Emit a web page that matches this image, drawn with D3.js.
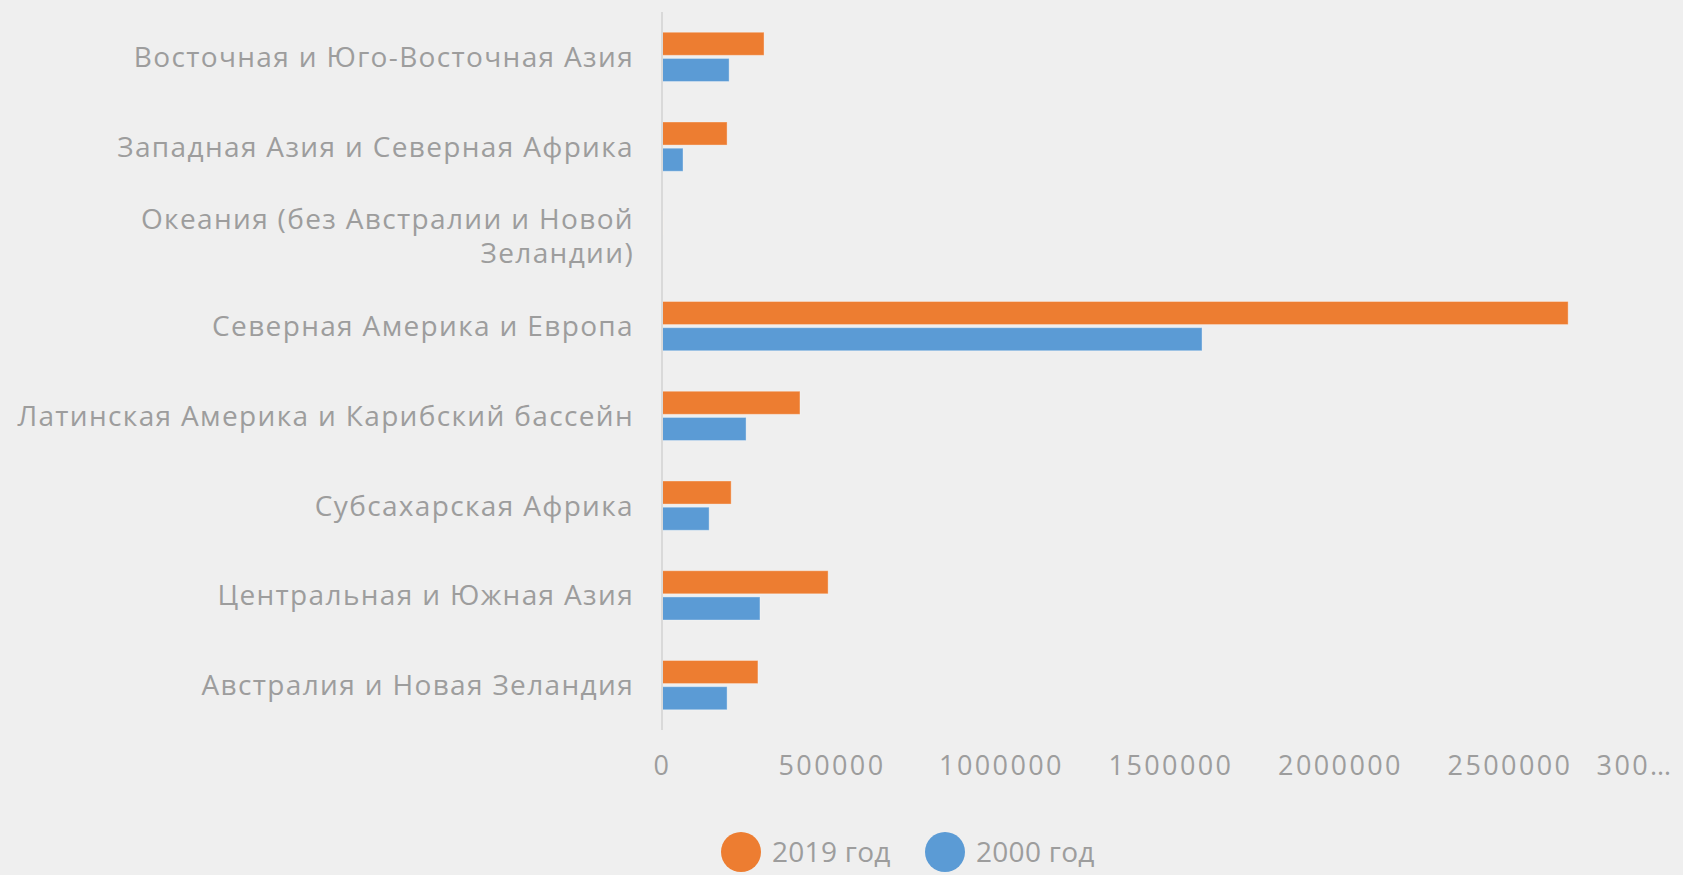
<!DOCTYPE html>
<html>
<head>
<meta charset="utf-8">
<script src="https://cdn.jsdelivr.net/npm/d3@7"></script>
<style>
  html, body { margin: 0; padding: 0; background: #efefef; }
  svg { display: block; }
  text { font-family: "Open Sans", "Noto Sans", sans-serif; fill: #9d9d9d; }
</style>
</head>
<body>
<svg id="chart" width="1683" height="875"></svg>
<script>
// Regions, top to bottom
const categories = [
  "Восточная и Юго-Восточная Азия",
  "Западная Азия и Северная Африка",
  "Океания (без Австралии и Новой\nЗеландии)",
  "Северная Америка и Европа",
  "Латинская Америка и Карибский бассейн",
  "Субсахарская Африка",
  "Центральная и Южная Азия",
  "Австралия и Новая Зеландия"
];
const values2019 = [301000, 192000, 3000, 2673000, 407000, 204000, 490000, 283000];
const values2000 = [198000, 62000, 1000, 1593000, 248000, 139000, 289000, 192000];
const seriesNames = ["2019 год", "2000 год"];
const seriesColors = ["#ed7d31", "#5b9bd5"];
const xTicks = [0, 500000, 1000000, 1500000, 2000000, 2500000, 3000000];

const svg = d3.select("#chart");
const margin = { left: 662, right: 4, top: 12, bottom: 145 };
const W = 1683, H = 875;

const x = d3.scaleLinear().domain([0, 3000000]).range([margin.left, W - margin.right]);
const y = d3.scaleBand().domain(d3.range(categories.length)).range([margin.top, H - margin.bottom]);

const barH = y.bandwidth() * 0.257;
const barGap = y.bandwidth() * 0.035;

const series = [values2019, values2000];
series.forEach((vals, si) => {
  svg.append("g").selectAll("rect").data(vals).join("rect")
    .attr("x", x(0))
    .attr("y", (d, i) => y(i) + y.bandwidth() / 2 - barGap / 2 - barH + si * (barH + barGap))
    .attr("width", d => x(d) - x(0))
    .attr("height", barH)
    .attr("fill", seriesColors[si])
    .attr("stroke", "rgba(255,255,255,0.35)")
    .attr("stroke-width", 1);
});

// Category axis line
svg.append("line")
  .attr("x1", x(0)).attr("x2", x(0))
  .attr("y1", margin.top).attr("y2", H - margin.bottom)
  .attr("stroke", "#d9d9d9").attr("stroke-width", 2);

// Category labels
const labels = svg.append("g").selectAll("text").data(categories).join("text")
  .attr("text-anchor", "end")
  .attr("font-size", 28)
  .attr("letter-spacing", "1.35px")
  .attr("x", x(0) - 28)
  .attr("y", (d, i) => y(i) + y.bandwidth() / 2);
labels.each(function(d) {
  const lines = d.split("\n");
  const t = d3.select(this);
  lines.forEach((ln, k) => {
    t.append("tspan")
      .attr("x", x(0) - 28)
      .attr("dy", k === 0 ? ((-(lines.length - 1) / 2) * 34 + 10) + "px" : "34px")
      .text(ln);
  });
});

// Value axis
const xAxis = d3.axisBottom(x)
  .tickValues(xTicks)
  .tickSize(0)
  .tickPadding(0)
  .tickFormat(d => d === 3000000 ? "300…" : String(d));
const gx = svg.append("g")
  .attr("transform", `translate(0, ${H - margin.bottom + 36})`)
  .call(xAxis);
gx.select(".domain").remove();
gx.selectAll("text")
  .attr("font-size", 27)
  .attr("letter-spacing", "2.4px")
  .attr("font-family", null)
  .attr("fill", null)
  .attr("dy", "0.32em")
  .attr("y", 0);
gx.selectAll(".tick").filter(d => d === 3000000).select("text")
  .attr("text-anchor", "end").attr("dx", -6);

// Legend
const legend = svg.append("g").attr("transform", "translate(741, 852)");
const items = legend.selectAll("g").data(seriesNames).join("g")
  .attr("transform", (d, i) => `translate(${i * 204}, 0)`);
items.append("circle").attr("r", 20).attr("fill", (d, i) => seriesColors[i]);
items.append("text").attr("x", 31).attr("dy", "0.35em").attr("font-size", 28)
  .attr("letter-spacing", "0.3px").text(d => d);
</script>
</body>
</html>
